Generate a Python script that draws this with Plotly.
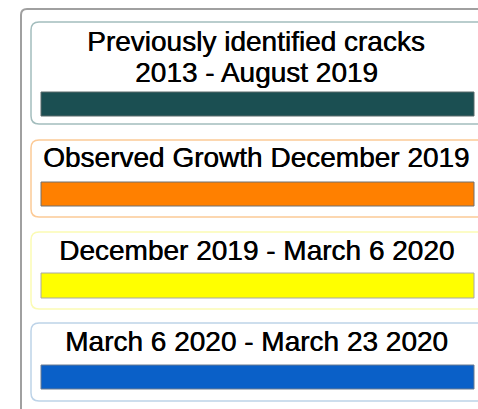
import plotly.graph_objects as go

# Legend entries (content)
titles = [
    ["Previously identified cracks", "2013 - August 2019"],
    ["Observed Growth December 2019"],
    ["December 2019 - March 6 2020"],
    ["March 6 2020 - March 23 2020"],
]
fill_colors = ["#1b4f52", "#ff8000", "#ffff00", "#0a60c8"]
bar_edge_colors = ["#5a6a6a", "#707070", "#a8a8a8", "#6a7a90"]
box_edge_colors = ["#a3bdbd", "#fcca96", "#fbfbb4", "#bdd3e8"]

# Layout geometry (pixel-like coordinate system)
W, H = 478, 409
box_x0 = 31
box_tops = [22, 140, 232, 323]
box_bottoms = [124, 217, 309, 401]
text_rows = [[41, 72], [157.5], [250.5], [341]]
bar_tops = [92, 182, 273, 365]
bar_bottoms = [116, 206, 298, 389]
bar_x0, bar_x1 = 41, 474
text_cx = 256


def rounded_left(x0, y0, x1, y1, r):
    return (f"M {x1},{y0} L {x0 + r},{y0} Q {x0},{y0} {x0},{y0 + r} "
            f"L {x0},{y1 - r} Q {x0},{y1} {x0 + r},{y1} L {x1},{y1}")


shapes = []
# outer frame
shapes.append(dict(type="path", xref="x", yref="y",
                   path=f"M 490,9 L 27,9 Q 21,9 21,15 L 21,420",
                   line=dict(color="#a0a0a0", width=2)))

annotations = []
for i in range(len(titles)):
    shapes.append(dict(type="path", xref="x", yref="y",
                       path=rounded_left(box_x0, box_tops[i], 495, box_bottoms[i], 8),
                       line=dict(color=box_edge_colors[i], width=1.5)))
    shapes.append(dict(type="rect", xref="x", yref="y",
                       x0=bar_x0, x1=bar_x1, y0=bar_tops[i], y1=bar_bottoms[i],
                       fillcolor=fill_colors[i],
                       line=dict(color=bar_edge_colors[i], width=1)))
    for line_text, cy in zip(titles[i], text_rows[i]):
        annotations.append(dict(x=text_cx, y=cy, xref="x", yref="y",
                                text=line_text, showarrow=False,
                                xanchor="center", yanchor="middle",
                                font=dict(family="Liberation Sans, Arial", size=28,
                                          color="#000000",
                                          shadow="0.5px 0px 0px #000000")))

fig = go.Figure()
fig.update_layout(
    width=W, height=H,
    margin=dict(l=0, r=0, t=0, b=0),
    paper_bgcolor="white", plot_bgcolor="white",
    xaxis=dict(range=[0, W], visible=False, fixedrange=True),
    yaxis=dict(range=[H, 0], visible=False, fixedrange=True),
    shapes=shapes, annotations=annotations,
    showlegend=False,
)
fig.write_html("out.html", config={"displayModeBar": False},
               post_script="document.body.style.margin='0';document.body.style.overflow='hidden';")
